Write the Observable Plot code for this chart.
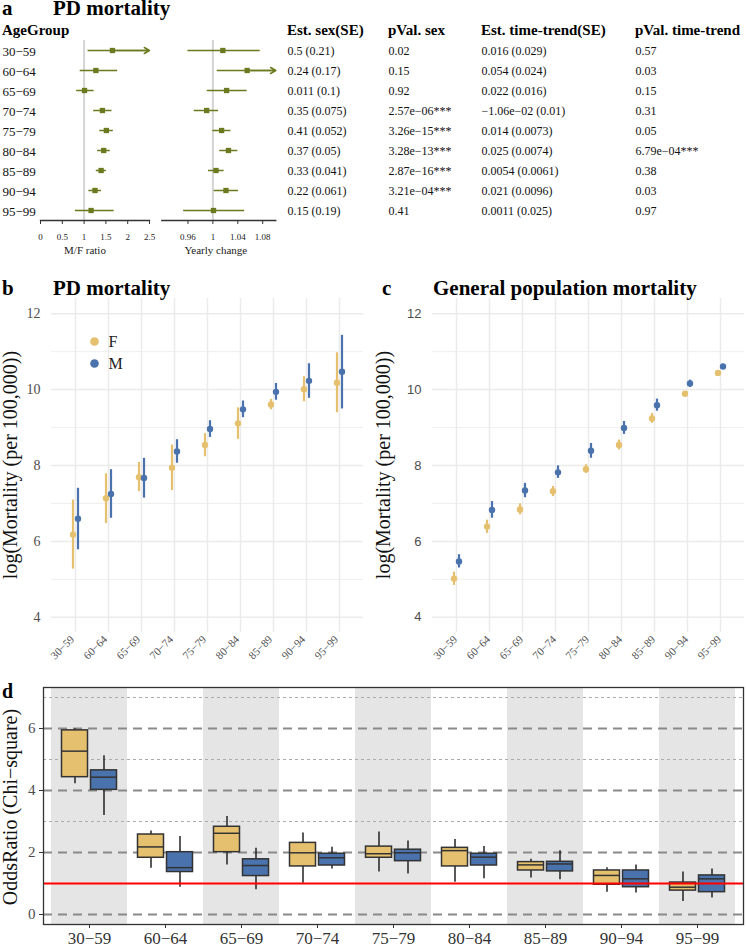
<!DOCTYPE html>
<html><head><meta charset="utf-8">
<script src="https://cdn.jsdelivr.net/npm/d3@7"></script>
<script src="https://cdn.jsdelivr.net/npm/@observablehq/plot@0.6"></script>
<style>
html,body{margin:0;padding:0;background:#fff;}
#root{position:relative;width:746px;height:945px;overflow:hidden;font-family:"Liberation Serif","Times New Roman",serif;}
#root svg{position:absolute;overflow:visible;}
</style></head><body><div id="root"></div>
<script>
// ---------- data ----------
const ageGroups = ["30−59","60−64","65−69","70−74","75−79","80−84","85−89","90−94","95−99"];

// panel a: M/F ratio forest
const mfEst = [1.65, 1.27, 1.01, 1.42, 1.51, 1.45, 1.39, 1.25, 1.16];
const mfLo  = [1.09, 0.91, 0.83, 1.22, 1.36, 1.31, 1.28, 1.11, 0.80];
const mfHi  = [2.50, 1.77, 1.23, 1.64, 1.67, 1.60, 1.51, 1.40, 1.69];
const mfArrow = [true, false, false, false, false, false, false, false, false];
// panel a: yearly change forest
const ytEst = [1.016, 1.055, 1.022, 0.990, 1.014, 1.025, 1.005, 1.021, 1.001];
const ytLo  = [0.960, 1.007, 0.991, 0.970, 1.000, 1.011, 0.993, 1.002, 0.953];
const ytHi  = [1.076, 1.101, 1.055, 1.009, 1.029, 1.040, 1.018, 1.041, 1.051];
const ytArrow = [false, true, false, false, false, false, false, false, false];
// panel a: table
const estSex = ["0.5 (0.21)","0.24 (0.17)","0.011 (0.1)","0.35 (0.075)","0.41 (0.052)","0.37 (0.05)","0.33 (0.041)","0.22 (0.061)","0.15 (0.19)"];
const pSex = ["0.02","0.15","0.92","2.57e−06***","3.26e−15***","3.28e−13***","2.87e−16***","3.21e−04***","0.41"];
const estTT = ["0.016 (0.029)","0.054 (0.024)","0.022 (0.016)","−1.06e−02 (0.01)","0.014 (0.0073)","0.025 (0.0074)","0.0054 (0.0061)","0.021 (0.0096)","0.0011 (0.025)"];
const pTT = ["0.57","0.03","0.15","0.31","0.05","6.79e−04***","0.38","0.03","0.97"];
const tableHeaders = ["Est. sex(SE)","pVal. sex","Est. time-trend(SE)","pVal. time-trend"];

// panel b: PD mortality
const pdF   = [6.18, 7.14, 7.69, 7.94, 8.54, 9.11, 9.61, 10.01, 10.18];
const pdFlo = [5.27, 6.47, 7.31, 7.34, 8.23, 8.69, 9.47, 9.68, 9.39];
const pdFhi = [7.09, 7.78, 8.08, 8.54, 8.84, 9.52, 9.74, 10.34, 10.97];
const pdM   = [6.60, 7.25, 7.67, 8.37, 8.96, 9.48, 9.94, 10.23, 10.47];
const pdMlo = [5.78, 6.61, 7.14, 8.06, 8.74, 9.26, 9.72, 9.77, 9.49];
const pdMhi = [7.40, 7.89, 8.19, 8.68, 9.18, 9.70, 10.16, 10.68, 11.43];

// panel c: general population mortality
const gpF   = [5.02, 6.39, 6.84, 7.32, 7.90, 8.54, 9.24, 9.89, 10.44];
const gpFlo = [4.84, 6.21, 6.70, 7.18, 7.79, 8.41, 9.11, 9.85, 10.41];
const gpFhi = [5.19, 6.56, 6.99, 7.45, 8.02, 8.67, 9.37, 9.93, 10.47];
const gpM   = [5.47, 6.83, 7.34, 7.82, 8.39, 8.99, 9.59, 10.16, 10.61];
const gpMlo = [5.30, 6.61, 7.15, 7.66, 8.19, 8.82, 9.43, 10.06, 10.58];
const gpMhi = [5.65, 7.05, 7.53, 7.99, 8.58, 9.16, 9.75, 10.25, 10.64];

// panel d: odds ratio box summaries
const orFmin = [4.22, 1.49, 1.60, 1.01, 1.37, 1.04, 1.18, 0.72, 0.42];
const orFq1  = [4.43, 1.83, 2.01, 1.55, 1.83, 1.55, 1.42, 0.96, 0.77];
const orFmed = [5.27, 2.18, 2.62, 1.99, 1.96, 2.06, 1.60, 1.26, 0.88];
const orFq3  = [5.94, 2.58, 2.83, 2.31, 2.19, 2.15, 1.69, 1.42, 1.03];
const orFmax = [5.99, 2.69, 3.16, 2.63, 2.66, 2.42, 1.78, 1.51, 1.37];
const orMmin = [3.19, 0.88, 0.80, 1.47, 1.31, 1.15, 1.12, 0.69, 0.53];
const orMq1  = [4.02, 1.37, 1.24, 1.58, 1.72, 1.58, 1.39, 0.88, 0.72];
const orMmed = [4.43, 1.51, 1.58, 1.83, 1.99, 1.85, 1.63, 1.15, 1.15];
const orMq3  = [4.65, 2.01, 1.78, 1.96, 2.09, 1.96, 1.70, 1.42, 1.26];
const orMmax = [5.12, 2.52, 2.14, 2.17, 2.37, 2.19, 2.06, 1.60, 1.47];
const shadedGroups = ["30−59","65−69","75−79","85−89","95−99"];
const orTicks = [0, 2, 4, 6];
const orMinor = [3, 5, 7];

// ---------- style ----------
const OLIVE = "#6b7a1f", COLF = "#E5C06F", COLM = "#4A72AC", GRID = "#ebebeb";
const SERIF = "Liberation Serif, Times New Roman, serif";
const SANS = "Liberation Sans, Arial, sans-serif";
const root = document.getElementById("root");
function place(el, left, top) { el.style.position = "absolute"; el.style.left = left + "px"; el.style.top = top + "px"; root.append(el); }
const baseStyle = {background: "transparent", fontFamily: SERIF, overflow: "visible"};

// ---------- panel a ----------
const rowsA = ageGroups.map((g, i) => ({g, mf: mfEst[i], mfLo: mfLo[i], mfHi: mfHi[i], mfArrow: mfArrow[i],
  yt: ytEst[i], ytLo: ytLo[i], ytHi: ytHi[i], ytArrow: ytArrow[i], c0: estSex[i], c1: pSex[i], c2: estTT[i], c3: pTT[i]}));
const yA = {type: "point", domain: ageGroups, padding: 0.5, axis: null};

function forest(key, dom, ticks, label, width, mL, mR, labelDx, withRowLabels) {
  const lo = key + "Lo", hi = key + "Hi", ar = key + "Arrow";
  return Plot.plot({
    width, height: 260, marginLeft: mL, marginRight: mR, marginTop: 40, marginBottom: 40,
    style: baseStyle,
    x: {domain: dom}, y: yA,
    marks: [
      Plot.ruleX([1], {stroke: "#d4d4d4", strokeWidth: 2}),
      Plot.ruleY(rowsA, {y: "g", x1: lo, x2: d => Math.min(d[hi], dom[1]), stroke: OLIVE, strokeWidth: 1.5}),
      Plot.arrow(rowsA.filter(d => d[ar]), {x1: key, x2: () => dom[1], y1: "g", y2: "g", stroke: OLIVE, strokeWidth: 1.5, headLength: 6}),
      Plot.dot(rowsA, {x: key, y: "g", symbol: "square", r: 3, fill: OLIVE}),
      withRowLabels ? Plot.text(rowsA, {y: "g", text: "g", frameAnchor: "left", textAnchor: "start", dx: -38, dy: 1, fontSize: 13, fill: "#111"}) : null,
      Plot.frame({anchor: "bottom", stroke: "#333", strokeWidth: 1.3}),
      Plot.axisX({ticks, tickSize: 4, tickPadding: 9, fontSize: 9, tickFormat: d => String(d), label: null, stroke: "#333", fill: "#222"}),
      Plot.text([label], {text: d => d, frameAnchor: "bottom", lineAnchor: "middle", dx: labelDx, dy: 30, fontSize: 11, fill: "#222"})
    ]
  });
}
place(forest("mf", [0, 2.5], [0, 0.5, 1, 1.5, 2, 2.5], "M/F ratio", 160, 40, 11, -10, true), 0, 0);
place(forest("yt", [0.918, 1.101], [0.96, 1, 1.04, 1.08], "Yearly change", 135, 11.3, 9.7, -3, false), 150, 0);

const tableCols = ["c0", "c1", "c2", "c3"];
const tableColDx = [7, 108, 201, 355];
place(Plot.plot({
  width: 466, height: 260, marginLeft: 0, marginRight: 0, marginTop: 40, marginBottom: 40,
  style: baseStyle,
  y: yA,
  marks: tableCols.map((c, i) => Plot.text(rowsA, {y: "g", text: c, frameAnchor: "left", textAnchor: "start", dx: tableColDx[i], dy: 1, fontSize: 12, fill: "#111"}))
}), 280, 0);

// ---------- panels b, c ----------
function mortality(F, Flo, Fhi, M, Mlo, Mhi, opts) {
  const rows = ageGroups.flatMap((g, i) => [
    {g, sex: "F", v: F[i], lo: Flo[i], hi: Fhi[i]},
    {g, sex: "M", v: M[i], lo: Mlo[i], hi: Mhi[i]}]);
  const f = rows.filter(d => d.sex === "F"), m = rows.filter(d => d.sex === "M");
  const marks = [
    Plot.ruleY([5, 7, 9, 11], {stroke: GRID, strokeWidth: 0.8}),
    Plot.ruleY([4, 6, 8, 10, 12], {stroke: GRID, strokeWidth: 1.5}),
    Plot.ruleX(ageGroups, {x: d => d, stroke: GRID, strokeWidth: 1.5}),
    Plot.ruleX(f, {x: "g", y1: "lo", y2: "hi", stroke: COLF, strokeWidth: 2.2, dx: -2.5}),
    Plot.ruleX(m, {x: "g", y1: "lo", y2: "hi", stroke: COLM, strokeWidth: 2.2, dx: 2.5}),
    Plot.dot(f, {x: "g", y: "v", fill: COLF, r: 3.2, dx: -2.5}),
    Plot.dot(m, {x: "g", y: "v", fill: COLM, r: 3.2, dx: 2.5}),
    Plot.axisY({ticks: [4, 6, 8, 10, 12], tickSize: 0, tickPadding: opts.tickPad, fontSize: opts.yFontSize, fontFamily: opts.yFont, fill: "#4d4d4d", label: null}),
    Plot.axisX({tickRotate: -45, tickSize: 0, tickPadding: 5, fontSize: 11, fill: "#4d4d4d", label: null, dx: opts.xLabelDx})
  ];
  if (opts.legend) {
    marks.push(
      Plot.dot(["F"], {frameAnchor: "top-left", dx: 43, dy: 43, r: 4.3, fill: COLF}),
      Plot.dot(["M"], {frameAnchor: "top-left", dx: 43, dy: 65, r: 4.3, fill: COLM}),
      Plot.text(["F"], {text: d => d, frameAnchor: "top-left", lineAnchor: "middle", dx: 57, dy: 43, textAnchor: "start", fontSize: 16, fill: "#222"}),
      Plot.text(["M"], {text: d => d, frameAnchor: "top-left", lineAnchor: "middle", dx: 57, dy: 65, textAnchor: "start", fontSize: 16, fill: "#222"})
    );
  }
  return Plot.plot({
    width: 373, height: 385, marginLeft: opts.mL, marginRight: opts.mR, marginTop: 18, marginBottom: 33,
    style: baseStyle,
    x: {type: "point", domain: ageGroups, padding: 0.6},
    y: {domain: [3.6, 12.4]},
    marks
  });
}
place(mortality(pdF, pdFlo, pdFhi, pdM, pdMlo, pdMhi, {mL: 51, mR: 10, legend: true, tickPad: 11, yFontSize: 14, yFont: SERIF, xLabelDx: -3}), 0, 280);
place(mortality(gpF, gpFlo, gpFhi, gpM, gpMlo, gpMhi, {mL: 59, mR: 2, legend: false, tickPad: 11, yFontSize: 13, yFont: SANS, xLabelDx: -1}), 373, 280);

// ---------- panel d ----------
const boxF = ageGroups.map((g, i) => ({g, lo: orFmin[i], q1: orFq1[i], med: orFmed[i], q3: orFq3[i], hi: orFmax[i]}));
const boxM = ageGroups.map((g, i) => ({g, lo: orMmin[i], q1: orMq1[i], med: orMmed[i], q3: orMq3[i], hi: orMmax[i]}));
function boxMarks(data, fill, dx) {
  return [
    Plot.ruleX(data, {x: "g", y1: "lo", y2: "hi", stroke: "#222", strokeWidth: 1.5, dx}),
    Plot.barY(data, {x: "g", y1: "q1", y2: "q3", fill, stroke: "#333", strokeWidth: 1.5, insetLeft: 25, insetRight: 25, dx}),
    Plot.tickY(data, {x: "g", y: "med", stroke: "#333", strokeWidth: 1.5, insetLeft: 25, insetRight: 25, dx})
  ];
}
place(Plot.plot({
  width: 746, height: 265, marginLeft: 43, marginRight: 3, marginTop: 7, marginBottom: 21,
  style: baseStyle,
  x: {type: "band", domain: ageGroups, paddingInner: 0, paddingOuter: 0.1},
  y: {domain: [-0.323, 7.323]},
  marks: [
    Plot.cell(shadedGroups, {x: d => d, fill: "#e5e5e5", inset: 0}),
    Plot.ruleY(orMinor, {stroke: "#ababab", strokeWidth: 1, strokeDasharray: "3,3"}),
    Plot.ruleY(orTicks, {stroke: "#8a8a8a", strokeWidth: 1.8, strokeDasharray: "9,6"}),
    ...boxMarks(boxF, COLF, -14.5),
    ...boxMarks(boxM, COLM, 14.5),
    Plot.ruleY([1], {stroke: "#ff0000", strokeWidth: 1.8}),
    Plot.frame({stroke: "#333", strokeWidth: 1.3}),
    Plot.axisY({ticks: orTicks, tickSize: 4, tickPadding: 4, fontSize: 15, fill: "#4d4d4d", stroke: "#333", label: null}),
    Plot.axisX({tickSize: 4, tickPadding: 3, fontSize: 17, fill: "#333", stroke: "#333", label: null})
  ]
}), 0, 680);

// ---------- titles & axis titles ----------
const ov = d3.create("svg").attr("width", 746).attr("height", 945)
  .style("position", "absolute").style("left", "0px").style("top", "0px").style("font-family", SERIF);
function T(x, y, txt, o = {}) {
  ov.append("text").attr("x", x).attr("y", y).text(txt)
    .attr("font-size", o.size || 12).attr("font-weight", o.bold ? "bold" : null)
    .attr("text-anchor", o.anchor || "start").attr("fill", o.fill || "#000")
    .attr("transform", o.rot ? `rotate(-90 ${x} ${y})` : null);
}
T(2, 15, "a", {size: 21, bold: true});
T(53, 15, "PD mortality", {size: 21, bold: true});
T(2, 35, "AgeGroup", {size: 15, bold: true});
const headerX = [287, 388, 481, 635];
tableHeaders.forEach((h, i) => T(headerX[i], 35, h, {size: 15, bold: true}));
T(2, 295, "b", {size: 21, bold: true});
T(53, 295, "PD mortality", {size: 21, bold: true});
T(382, 295, "c", {size: 21, bold: true});
T(433, 295, "General population mortality", {size: 21, bold: true});
T(17, 465, "log(Mortality (per 100,000))", {size: 20, rot: true, anchor: "middle", fill: "#111"});
T(390, 465, "log(Mortality (per 100,000))", {size: 20, rot: true, anchor: "middle", fill: "#111"});
T(2, 698, "d", {size: 20, bold: true});
T(17, 807, "OddsRatio (Chi−square)", {size: 20, rot: true, anchor: "middle", fill: "#111"});
root.append(ov.node());
</script></body></html>
